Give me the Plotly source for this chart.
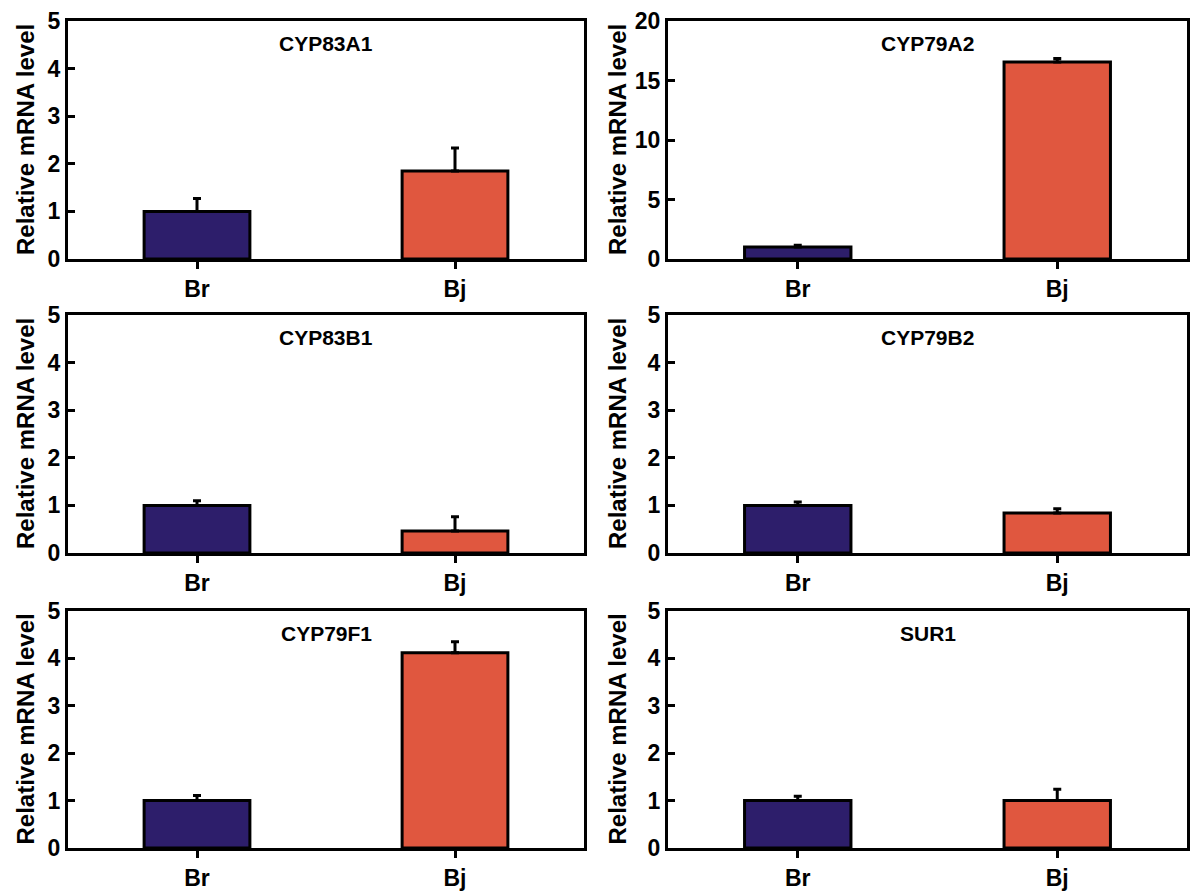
import plotly.graph_objects as go

categories = ["Br", "Bj"]
genes = ["CYP83A1", "CYP79A2", "CYP83B1", "CYP79B2", "CYP79F1", "SUR1"]
br_values = [1.0, 1.0, 1.0, 1.0, 1.0, 1.0]
br_errors = [0.27, 0.15, 0.10, 0.07, 0.11, 0.09]
bj_values = [1.85, 16.55, 0.46, 0.84, 4.12, 1.0]
bj_errors = [0.48, 0.30, 0.30, 0.09, 0.23, 0.24]
y_max = [5, 20, 5, 5, 5, 5]
y_dtick = [1, 5, 1, 1, 1, 1]

BR_COLOR = "#2d1e6b"
BJ_COLOR = "#e0573f"
FONT = "Liberation Sans, Arial, sans-serif"

W, H = 1200, 892
col_x = [(68, 584), (668, 1187)]
col_title_x = [25, 617]
row_y = [(21, 259), (315, 553), (611, 848)]

fig = go.Figure()

for i, gene in enumerate(genes):
    r, c = divmod(i, 2)
    ax = "" if i == 0 else str(i + 1)
    xa, ya = "x" + ax, "y" + ax
    fig.add_trace(go.Bar(
        x=categories,
        y=[br_values[i], bj_values[i]],
        marker=dict(color=[BR_COLOR, BJ_COLOR], line=dict(color="black", width=3)),
        width=0.41,
        error_y=dict(type="data", symmetric=False,
                     array=[br_errors[i], bj_errors[i]], arrayminus=[0, 0],
                     color="black", thickness=3, width=4),
        xaxis=xa, yaxis=ya, showlegend=False,
    ))
    x0, x1 = col_x[c]
    y0, y1 = row_y[r]
    xdom = [x0 / W, x1 / W]
    ydom = [1 - y1 / H, 1 - y0 / H]
    xkey = "xaxis" if i == 0 else f"xaxis{i+1}"
    ykey = "yaxis" if i == 0 else f"yaxis{i+1}"
    fig.layout[xkey] = dict(
        domain=xdom, anchor=ya, range=[-0.5, 1.5], automargin=False,
        showline=True, linecolor="black", linewidth=3, mirror=True,
        ticks="outside", ticklen=7, tickwidth=3, tickcolor="black",
        tickfont=dict(family=FONT, size=23, color="black", weight="bold"),
        showgrid=False, zeroline=False, fixedrange=True,
    )
    fig.layout[ykey] = dict(
        domain=ydom, anchor=xa, range=[0, y_max[i]], dtick=y_dtick[i],
        automargin=False,
        showline=True, linecolor="black", linewidth=3, mirror=True,
        ticks="inside", ticklen=7, tickwidth=3, tickcolor="black",
        tickfont=dict(family=FONT, size=23, color="black", weight="bold"),
        showgrid=False, zeroline=False, fixedrange=True,
    )
    fig.add_annotation(
        text=gene, xref=f"{xa} domain", yref=f"{ya} domain",
        x=0.5, y=0.905, showarrow=False, xanchor="center", yanchor="middle",
        font=dict(family=FONT, size=21, color="black", weight="bold"),
    )
    fig.add_annotation(
        text="Relative mRNA level", xref="paper", yref=f"{ya} domain",
        x=col_title_x[c] / W, y=0.5, textangle=-90, showarrow=False,
        xanchor="center", yanchor="middle",
        font=dict(family=FONT, size=24, color="black", weight="bold"),
    )

fig.update_layout(
    width=W, height=H, autosize=False,
    margin=dict(l=0, r=0, t=0, b=0),
    paper_bgcolor="white", plot_bgcolor="white",
)

fig.write_html(
    "out.html",
    config={"displayModeBar": False},
    post_script="document.body.style.margin='0';document.body.style.overflow='hidden';",
)
